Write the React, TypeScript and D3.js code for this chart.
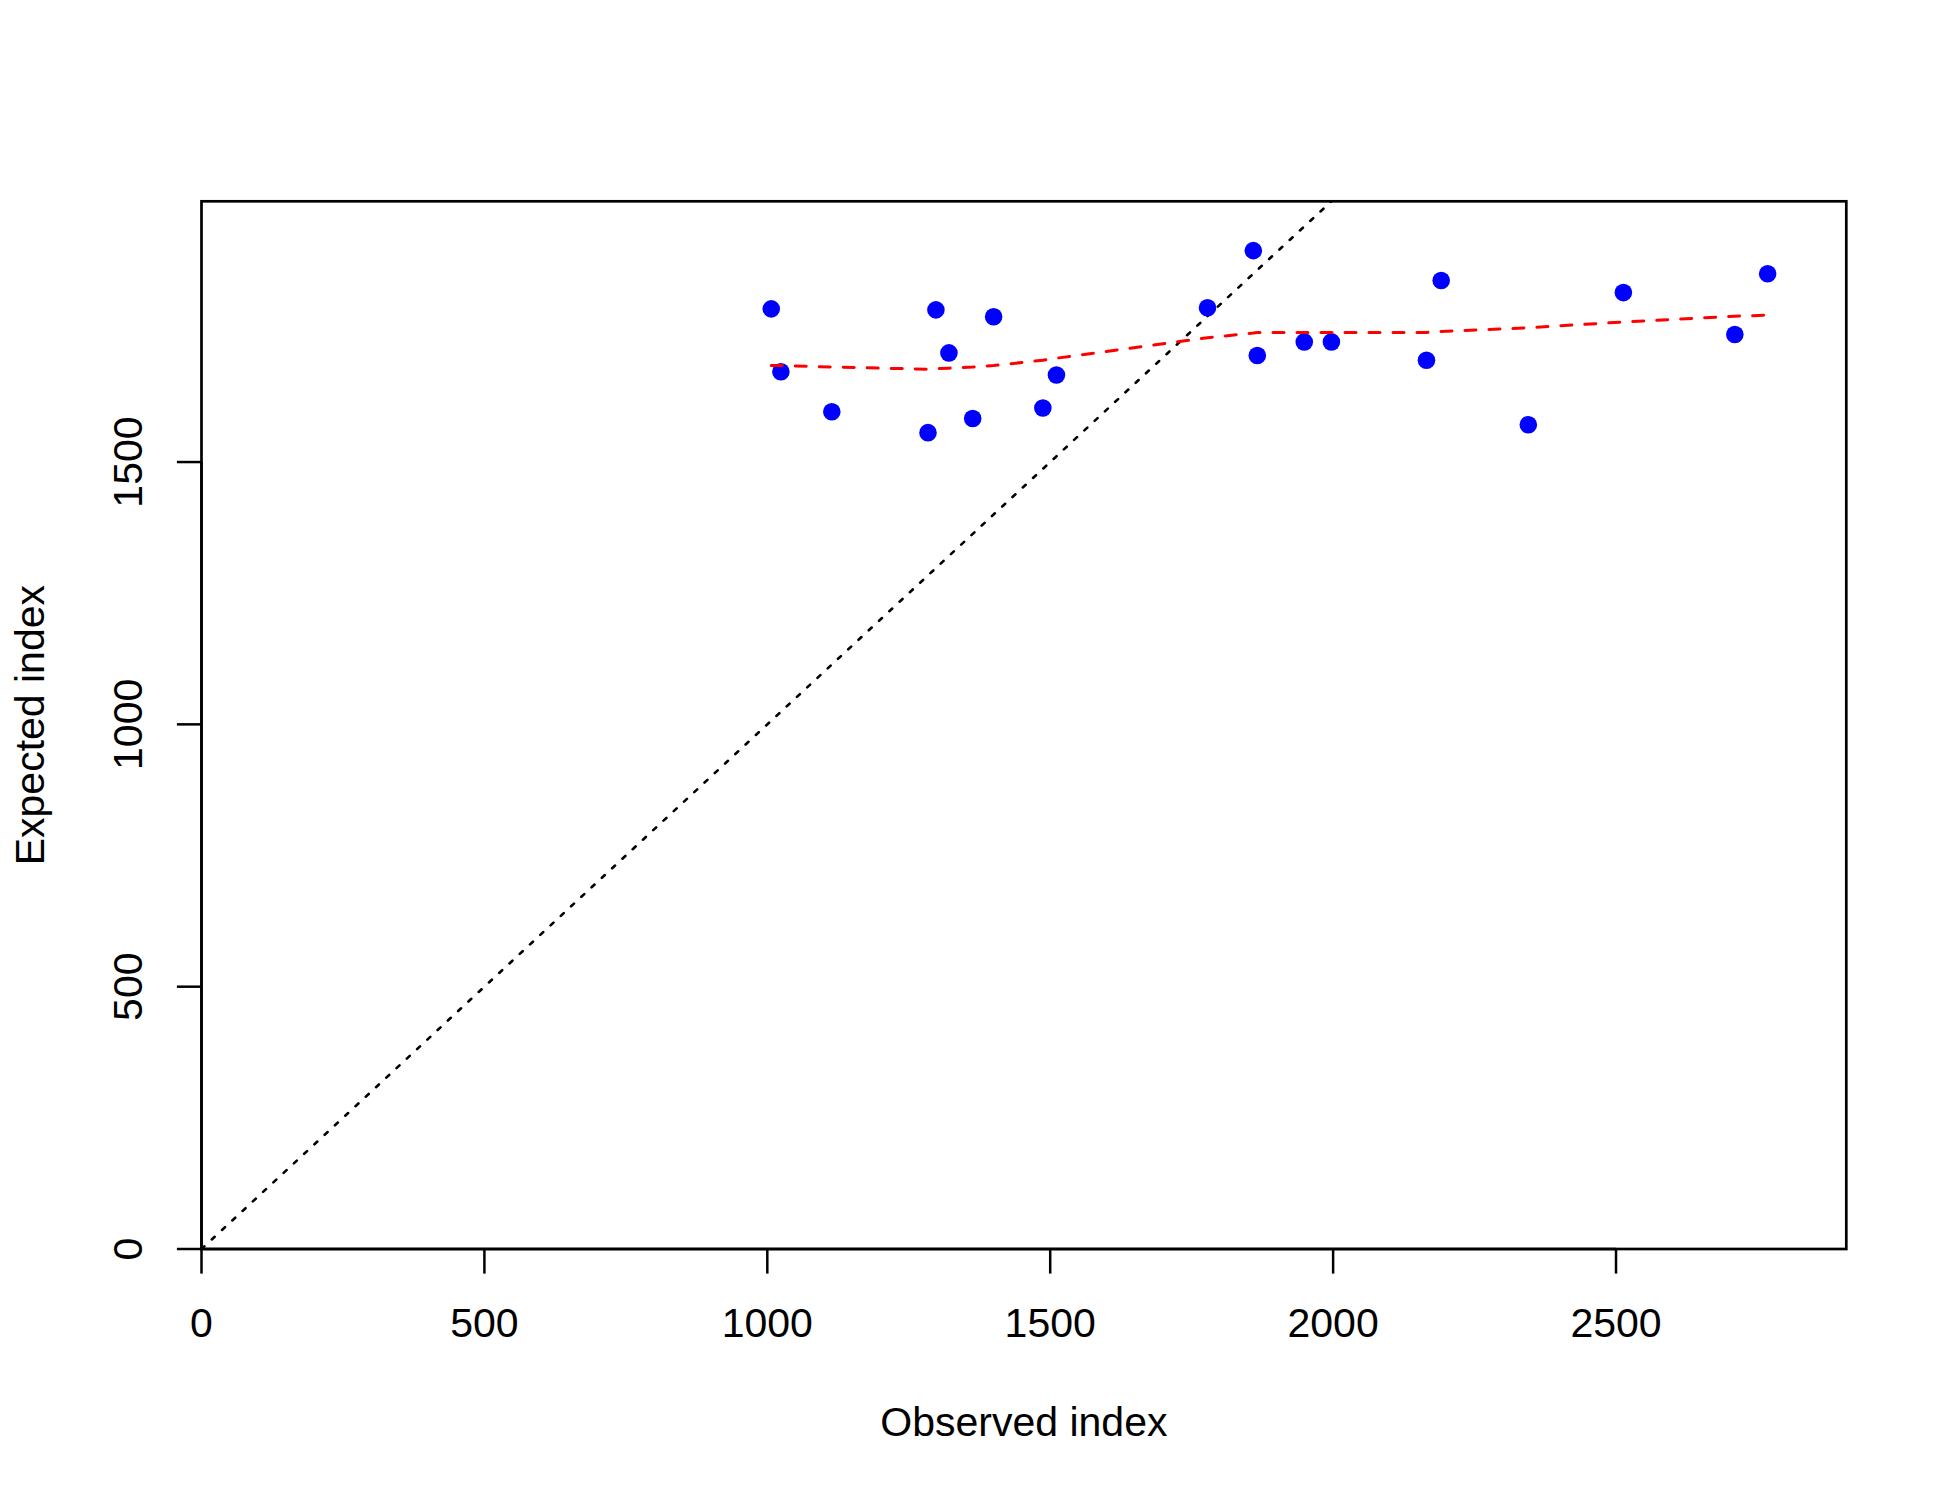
import React from "react";
import * as d3 from "d3";

const observed = [1007, 1024, 1114, 1284, 1298, 1321, 1363, 1400, 1487, 1511, 1778, 1859, 1866, 1949, 1997, 2165, 2191, 2345, 2513, 2710, 2768];
const expected = [1792, 1672, 1596, 1556, 1790, 1708, 1583, 1777, 1603, 1666, 1794, 1903, 1703, 1729, 1729, 1694, 1846, 1571, 1823, 1743, 1859];
const smooth = [1684, 1684, 1681, 1677, 1678, 1679, 1681, 1684, 1694, 1698, 1737, 1746, 1747, 1747, 1747, 1747, 1749, 1756, 1767, 1778, 1780];
const xTicks = [0, 500, 1000, 1500, 2000, 2500];
const yTicks = [0, 500, 1000, 1500];
const xDomain = [0, 2907];
const yDomain = [0, 1997];
const xTitle = "Observed index";
const yTitle = "Expected index";

const W = 1950;
const H = 1500;
const L = 201.5, R = 1846.3, T = 201.3, B = 1249;
const FONT = "'Liberation Sans', Arial, Helvetica, sans-serif";
const FS = 41;

export default function App() {
  const x = d3.scaleLinear().domain(xDomain).range([L, R]);
  const y = d3.scaleLinear().domain(yDomain).range([B, T]);
  const pts = observed.map((o, i) => ({ o, e: expected[i], s: smooth[i] }));
  const smoothLine = d3.line<any>().x((d) => x(d.o)).y((d) => y(d.s))(pts) || "";
  const diag = d3.line<number>().x((d) => x(d)).y((d) => y(d))([0, yDomain[1]]) || "";

  return (
    <svg
      width={W}
      height={H}
      viewBox={`0 0 ${W} ${H}`}
      style={{ position: "absolute", left: 0, top: 0, display: "block", background: "#fff" }}
    >
      <defs>
        <clipPath id="plotclip">
          <rect x={L} y={T} width={R - L} height={B - T} />
        </clipPath>
      </defs>
      <rect x={0} y={0} width={W} height={H} fill="#fff" />
      <g clipPath="url(#plotclip)">
        <path d={diag} fill="none" stroke="#000" strokeWidth={2.6} strokeDasharray="4 10" strokeLinecap="round" />
      </g>
      {pts.map((p, i) => (
        <circle key={i} cx={x(p.o)} cy={y(p.e)} r={8.8} fill="#0000FF" />
      ))}
      <path d={smoothLine} fill="none" stroke="#FF0000" strokeWidth={3} strokeDasharray="11 13" strokeLinecap="round" />
      <rect x={L} y={T} width={R - L} height={B - T} fill="none" stroke="#000" strokeWidth={2.7} />
      {/* x axis */}
      <line x1={x(xTicks[0])} x2={x(xTicks[xTicks.length - 1])} y1={B} y2={B} stroke="#000" strokeWidth={2.5} />
      {xTicks.map((t) => (
        <g key={t}>
          <line x1={x(t)} x2={x(t)} y1={B} y2={B + 24.6} stroke="#000" strokeWidth={2.5} />
          <text x={x(t)} y={1337} textAnchor="middle" fontFamily={FONT} fontSize={FS} fill="#000">
            {t}
          </text>
        </g>
      ))}
      {/* y axis */}
      <line x1={L} x2={L} y1={y(yTicks[0])} y2={y(yTicks[yTicks.length - 1])} stroke="#000" strokeWidth={2.5} />
      {yTicks.map((t) => (
        <g key={t}>
          <line x1={L - 24.6} x2={L} y1={y(t)} y2={y(t)} stroke="#000" strokeWidth={2.5} />
          <text
            transform={`translate(142,${y(t)}) rotate(-90)`}
            textAnchor="middle"
            fontFamily={FONT}
            fontSize={FS}
            fill="#000"
          >
            {t}
          </text>
        </g>
      ))}
      <text x={(L + R) / 2} y={1436} textAnchor="middle" fontFamily={FONT} fontSize={FS} fill="#000">
        {xTitle}
      </text>
      <text
        transform={`translate(44,${(T + B) / 2}) rotate(-90)`}
        textAnchor="middle"
        fontFamily={FONT}
        fontSize={FS}
        fill="#000"
      >
        {yTitle}
      </text>
    </svg>
  );
}
